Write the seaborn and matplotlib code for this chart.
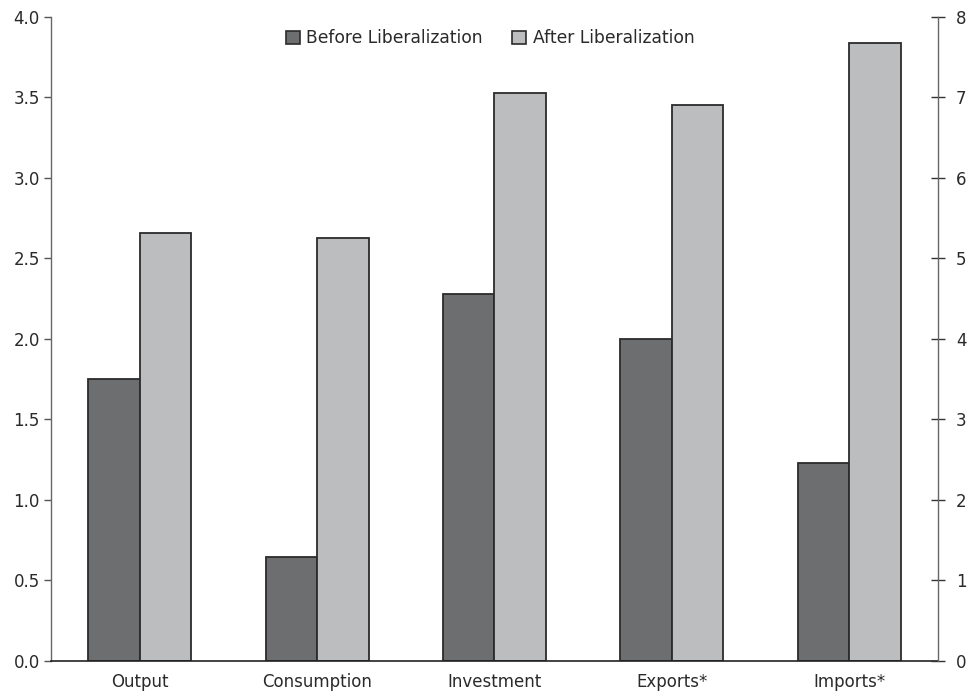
import pandas as pd
import seaborn as sns
import matplotlib.pyplot as plt
from matplotlib.patches import Patch

categories = ["Output", "Consumption", "Investment", "Exports*", "Imports*"]
before = [1.75, 0.645, 2.28, 2.00, 1.23]
after = [2.66, 2.625, 3.53, 3.455, 3.84]
series = ["Before Liberalization", "After Liberalization"]
colors = ["#6d6e70", "#bcbdbf"]


def main():
    sns.set_theme(style="white")
    plt.rcParams['font.family'] = ['DejaVu Sans']

    df = pd.DataFrame({
        "category": categories * 2,
        "series": [series[0]] * len(categories) + [series[1]] * len(categories),
        "value": before + after,
    })

    fig = plt.figure(figsize=(9.69, 6.94), dpi=100)
    ax = fig.add_axes([0.0526, 0.0476, 0.9154, 0.928])

    sns.barplot(data=df, x="category", y="value", hue="series", order=categories,
                hue_order=series, palette=colors, width=0.58, edgecolor="#2b2b2b",
                linewidth=1.3, saturation=1, ax=ax, legend=False)

    ax.set_xlim(-0.5, len(categories) - 0.5)
    ax.set_ylim(0, 4.0)
    ax.set_yticks([0, 0.5, 1.0, 1.5, 2.0, 2.5, 3.0, 3.5, 4.0])
    ax.set_yticklabels([f"{v:.1f}" for v in ax.get_yticks()])
    ax.set_xlabel("")
    ax.set_ylabel("")

    # category boundary ticks on x
    ax.set_xticks(range(len(categories)))
    ax.set_xticklabels(categories)
    ax.set_xticks([i + 0.5 for i in range(len(categories) - 1)], minor=True)
    ax.tick_params(axis="x", which="major", length=0, pad=9, labelsize=12, colors="#2a2a2a")
    ax.tick_params(axis="x", which="minor", length=5, direction="out", color="#555555", width=1)
    ax.tick_params(axis="y", which="major", length=5, direction="out", color="#555555",
                   width=1, labelsize=12, labelcolor="#2a2a2a", left=True, pad=3)

    ax.spines["top"].set_visible(False)
    ax.spines["left"].set_color("#666666")
    ax.spines["left"].set_linewidth(1)
    ax.spines["bottom"].set_color("#222222")
    ax.spines["bottom"].set_linewidth(1.2)
    ax.spines["right"].set_visible(False)

    ax2 = ax.twinx()
    ax2.set_ylim(0, 8)
    ax2.set_yticks(range(0, 9))
    ax2.tick_params(axis="y", direction="inout", length=10, width=1, color="#333333",
                    labelsize=12, labelcolor="#2a2a2a", pad=8)
    ax2.spines["top"].set_visible(False)
    ax2.spines["left"].set_visible(False)
    ax2.spines["bottom"].set_visible(False)
    ax2.spines["right"].set_color("#666666")
    ax2.spines["right"].set_linewidth(1)

    handles = [Patch(facecolor=c, edgecolor="#2b2b2b", linewidth=1.2) for c in colors]
    ax.legend(handles, series, loc="upper center", bbox_to_anchor=(0.495, 1.005), ncol=2,
              frameon=False, fontsize=12.3, handlelength=0.8, handleheight=0.8,
              handletextpad=0.4, columnspacing=1.7, labelcolor="#2a2a2a")

    fig.savefig("out.png", dpi=100)
    plt.close(fig)


if __name__ == '__main__':
    main()
